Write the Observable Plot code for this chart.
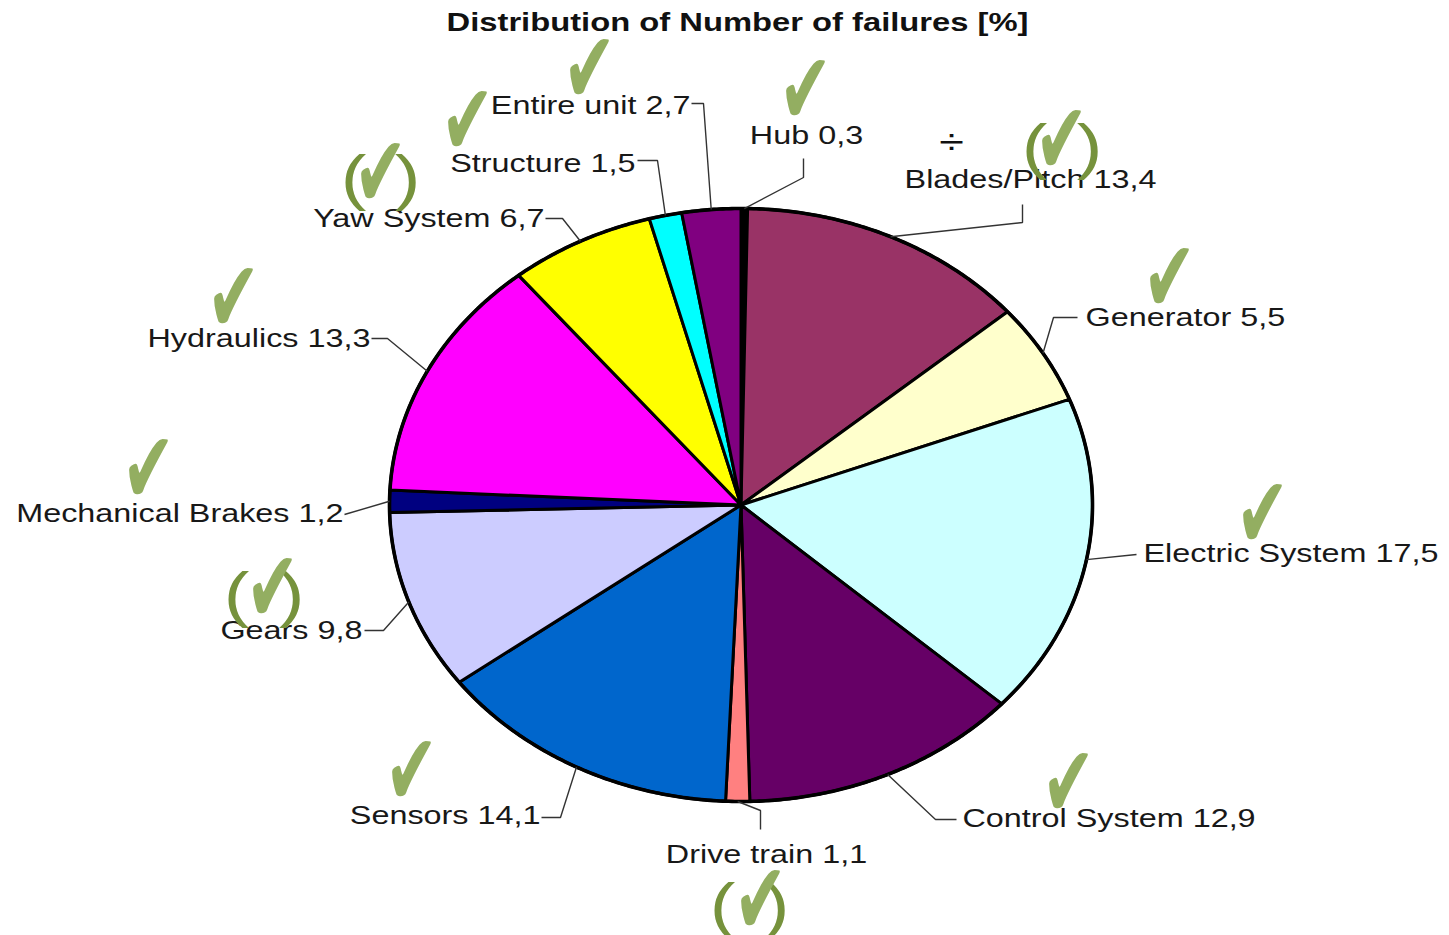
<!DOCTYPE html>
<html><head><meta charset="utf-8">
<script src="https://cdn.jsdelivr.net/npm/d3@7"></script>
<script src="https://cdn.jsdelivr.net/npm/@observablehq/plot@0.6"></script>
<style>
html,body{margin:0;padding:0;background:#fff;}
#chart svg{display:block;}
</style></head><body><div id="chart"></div>
<script>
// ---------- data ----------
const title = "Distribution of Number of failures [%]";
const categories = ["Hub","Blades/Pitch","Generator","Electric System","Control System","Drive train","Sensors","Gears","Mechanical Brakes","Hydraulics","Yaw System","Structure","Entire unit"];
const values = [0.3,13.4,5.5,17.5,12.9,1.1,14.1,9.8,1.2,13.3,6.7,1.5,2.7];
const valueLabels = ["0,3","13,4","5,5","17,5","12,9","1,1","14,1","9,8","1,2","13,3","6,7","1,5","2,7"];
const sliceColors = ["#000000","#993366","#FFFFCC","#CCFFFF","#660066","#FF8080","#0066CC","#CCCCFF","#000080","#FF00FF","#FFFF00","#00FFFF","#800080"];
const checkStatus = ["ok","partial","ok","ok","ok","partial","ok","partial","ok","ok","partial","ok","ok"];

// ---------- layout (pixels) ----------
const CX = 740.5, CY = 504.5, RX = 351.5, RY = 296.5;
const STRETCH = 1.245;
const CHECK_SCALE = "scale(1.1,1.75)";
const labelAt = [[806,135,"middle"],[1030,179,"middle"],[1085,317,"start"],[1143,553,"start"],[962,818.5,"start"],[766,854,"middle"],[540,815.5,"end"],[362,630.5,"end"],[343,513,"end"],[370,338.5,"end"],[544,218,"end"],[635,163,"end"],[690,105,"end"]];
const leaderBends = [[[803,177],[803,158]],[[1022,222],[1022,204]],[[1053,317],[1077,317]],[[1136,554]],[[935,819],[956,819]],[[760,810],[760,829]],[[560,817],[541,817]],[[383,630],[364,630]],[[344,514]],[[387,338],[371,338]],[[562,218],[545,218]],[[657,160],[637,160]],[[703,103],[691,103]]];
const checkAt = [[805,84],[1061,134],[1169,272],[1262,508],[1068,777],[760,894],[411,765],[272,582],[148,463],[233,292],[380,167],[467,115],[589,63]];
const parenAt = {1:[[1034,147],[1089,147]],5:[[722,906],[776,906]],7:[[236,595],[291,595]],10:[[353,178],[407,178]]};
const divideAt = [951,141.5];
const titleAt = [737,22];

const px = v => (v - CX) / RX, py = v => (v - CY) / RY;

// ---------- geometry from data ----------
const arcs = d3.pie().sort(null).value(d => d)(values);
const slicePts = [];
arcs.forEach((a, i) => {
  const cat = categories[i];
  slicePts.push({cat, x: 0, y: 0});
  const n = Math.max(2, Math.ceil((a.endAngle - a.startAngle) / (Math.PI / 360)));
  for (let k = 0; k <= n; k++) {
    const t = a.startAngle + (a.endAngle - a.startAngle) * k / n;
    slicePts.push({cat, x: Math.sin(t), y: -Math.cos(t)});
  }
  slicePts.push({cat, x: 0, y: 0});
});
const rim = d3.range(0, 721).map(k => ({x: Math.sin(k * Math.PI / 360), y: -Math.cos(k * Math.PI / 360)}));

const leaders = [];
arcs.forEach((a, i) => {
  const m = (a.startAngle + a.endAngle) / 2;
  leaders.push({cat: categories[i], x: Math.sin(m), y: -Math.cos(m)});
  leaderBends[i].forEach(([bx, by]) => leaders.push({cat: categories[i], x: px(bx), y: py(by)}));
});

const labels = categories.map((c, i) => ({text: c + " " + valueLabels[i], x: px(labelAt[i][0]), y: py(labelAt[i][1]), anchor: labelAt[i][2]}));
const checks = categories.map((c, i) => ({x: px(checkAt[i][0]), y: py(checkAt[i][1]), status: checkStatus[i]}));
const parens = [];
checkStatus.forEach((s, i) => { if (s === "partial") { parens.push({g: "(", x: px(parenAt[i][0][0]), y: py(parenAt[i][0][1])}); parens.push({g: ")", x: px(parenAt[i][1][0]), y: py(parenAt[i][1][1])}); } });

const textFill = "#181818";
const chart = Plot.plot({
  width: 1449, height: 935, margin: 0,
  x: {domain: [-1, 1], range: [CX - RX, CX + RX], axis: null},
  y: {domain: [-1, 1], range: [CY - RY, CY + RY], axis: null},
  color: {domain: categories, range: sliceColors},
  style: {fontFamily: "'Liberation Sans', Arial, sans-serif", background: "#ffffff"},
  marks: [
    Plot.line(slicePts, {x: "x", y: "y", z: "cat", fill: "cat", stroke: "#000", strokeWidth: 3, strokeLinejoin: "round"}),
    Plot.line(rim, {x: "x", y: "y", stroke: "#000", strokeWidth: 3.6, fill: "none"}),
    Plot.line(leaders, {x: "x", y: "y", z: "cat", stroke: "#333", strokeWidth: 1.4, fill: "none", strokeLinejoin: "miter", strokeLinecap: "butt"}),
    Plot.text(labels.filter(d => d.anchor === "start"), {x: "x", y: "y", text: "text", textAnchor: "start", fontSize: 26, fill: textFill}),
    Plot.text(labels.filter(d => d.anchor === "end"), {x: "x", y: "y", text: "text", textAnchor: "end", fontSize: 26, fill: textFill}),
    Plot.text(labels.filter(d => d.anchor === "middle"), {x: "x", y: "y", text: "text", textAnchor: "middle", fontSize: 26, fill: textFill}),
    Plot.text([title], {x: () => px(titleAt[0]), y: () => py(titleAt[1]), text: d => d, fontSize: 26.3, fontWeight: "bold", fill: "#111"}),
    Plot.text([divideAt], {x: d => px(d[0]), y: d => py(d[1]), text: () => "÷", fontSize: 36, fill: "#111"}),
    Plot.text(parens, {x: "x", y: "y", text: "g", fontSize: 62, fill: "#76923C"}),
    Plot.text(checks, {x: "x", y: "y", dy: 7, text: () => "✔", fontSize: 58, fontFamily: "DejaVu Sans", fill: "#93AE61"})
  ]
});
document.getElementById("chart").appendChild(chart);
// horizontal stretch of glyphs, as in the reference image
chart.querySelectorAll("text").forEach(t => {
  const tr = t.getAttribute("transform");
  if (!tr) return;
  if (t.textContent === "✔") t.setAttribute("transform", tr + " " + CHECK_SCALE);
  else t.setAttribute("transform", tr + ` scale(${STRETCH},1)`);
});
</script></body></html>
